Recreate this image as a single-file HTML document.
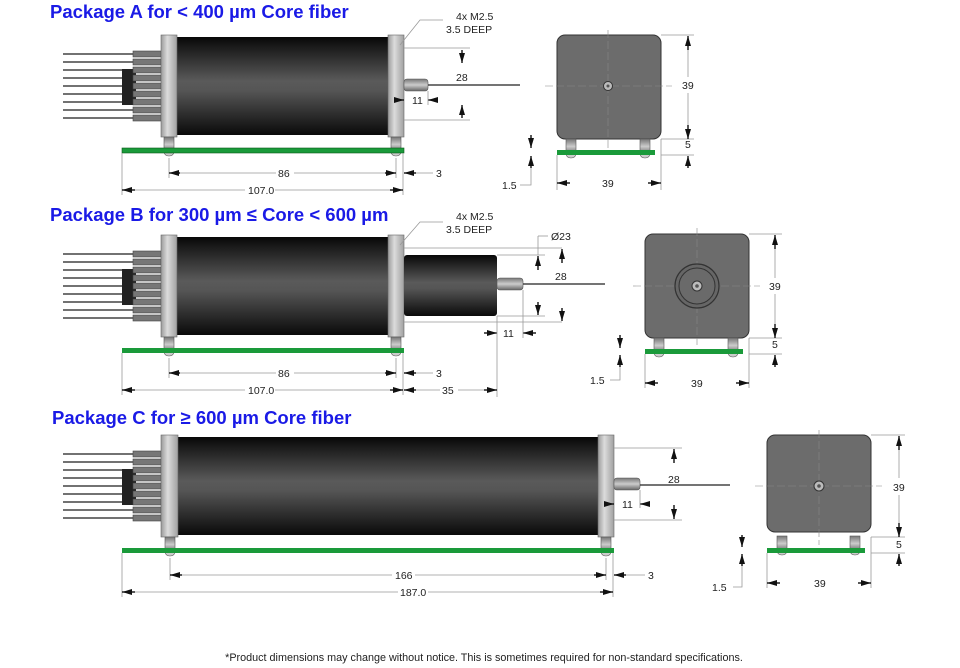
<!DOCTYPE html>
<html><head><meta charset="utf-8"><style>
body{margin:0;background:#fff;}
svg{display:block}
.t{font-family:"Liberation Sans",sans-serif;font-weight:bold;fill:#1a1ae6;font-size:18.5px}
.d{font-family:"Liberation Sans",sans-serif;font-size:10.5px;fill:#222}
.dl{stroke:#999;stroke-width:0.8;fill:none}
.ar{stroke:#111;stroke-width:1.4}
</style></head><body>
<svg width="960" height="668" viewBox="0 0 960 668" xmlns="http://www.w3.org/2000/svg">
<defs>
<linearGradient id="cyl" x1="0" y1="0" x2="0" y2="1">
<stop offset="0" stop-color="#080808"/><stop offset="0.45" stop-color="#5a5a5a"/><stop offset="0.55" stop-color="#555"/><stop offset="1" stop-color="#0a0a0a"/>
</linearGradient>
<linearGradient id="plate" x1="0" y1="0" x2="1" y2="0">
<stop offset="0" stop-color="#9a9a9a"/><stop offset="0.4" stop-color="#dcdcdc"/><stop offset="1" stop-color="#a0a0a0"/>
</linearGradient>
<linearGradient id="fer" x1="0" y1="0" x2="0" y2="1">
<stop offset="0" stop-color="#777"/><stop offset="0.5" stop-color="#ccc"/><stop offset="1" stop-color="#666"/>
</linearGradient>
<g id="bundle">
<g stroke="#444" stroke-width="1.6">
<line x1="63" y1="19" x2="135" y2="19"/><line x1="63" y1="27" x2="135" y2="27"/><line x1="63" y1="35" x2="135" y2="35"/>
<line x1="63" y1="43" x2="135" y2="43"/><line x1="63" y1="51" x2="135" y2="51"/><line x1="63" y1="59" x2="135" y2="59"/>
<line x1="63" y1="67" x2="135" y2="67"/><line x1="63" y1="75" x2="135" y2="75"/><line x1="63" y1="83" x2="135" y2="83"/>
</g>
<rect x="122" y="34" width="14" height="36" fill="#222"/>
<g fill="#777" stroke="#444" stroke-width="0.6">
<rect x="133" y="16" width="28" height="6"/><rect x="133" y="24" width="28" height="6"/><rect x="133" y="32" width="28" height="6"/>
<rect x="133" y="40" width="28" height="6"/><rect x="133" y="48" width="28" height="6"/><rect x="133" y="56" width="28" height="6"/>
<rect x="133" y="64" width="28" height="6"/><rect x="133" y="72" width="28" height="6"/><rect x="133" y="80" width="28" height="6"/>
</g>
</g>
<g id="post"><rect x="0" y="0" width="10" height="15" fill="url(#fer)" stroke="#555" stroke-width="0.6"/><path d="M0,15 a5,4 0 0 0 10,0" fill="#ccc" stroke="#555" stroke-width="0.6"/></g>
<marker id="m" viewBox="0 0 10 6" refX="10" refY="3" markerWidth="10" markerHeight="6" orient="auto-start-reverse" markerUnits="userSpaceOnUse"><path d="M0,0 L10,3 L0,6z" fill="#111"/></marker>
</defs>

<!-- ===== Package A ===== -->
<text class="t" x="50" y="18">Package A for &lt; 400 µm Core fiber</text>
<use href="#bundle" x="0" y="35"/>
<rect x="177" y="37" width="212" height="98" fill="url(#cyl)"/>
<rect x="161" y="35" width="16" height="102" fill="url(#plate)" stroke="#666" stroke-width="0.6"/>
<rect x="388" y="35" width="16" height="102" fill="url(#plate)" stroke="#666" stroke-width="0.6"/>
<use href="#post" x="164" y="137"/><use href="#post" x="391" y="137"/>
<rect x="122" y="148" width="282" height="5" fill="#1a9a3a" stroke="#0a5a1a" stroke-width="0.6"/>
<rect x="404" y="79" width="24" height="12" rx="3" fill="url(#fer)" stroke="#555" stroke-width="0.6"/>
<line x1="428" y1="85" x2="520" y2="85" stroke="#222" stroke-width="1.2"/>
<line class="dl" x1="404" y1="48" x2="470" y2="48"/><line class="dl" x1="404" y1="120" x2="470" y2="120"/>
<line class="ar" x1="462" y1="50" x2="462" y2="63" marker-end="url(#m)"/>
<line class="ar" x1="462" y1="118" x2="462" y2="105" marker-end="url(#m)"/>
<text class="d" x="456" y="81">28</text>
<line class="ar" x1="397" y1="100" x2="404" y2="100" marker-end="url(#m)"/>
<line class="ar" x1="436" y1="100" x2="428" y2="100" marker-end="url(#m)"/>
<text class="d" x="412" y="104">11</text>
<line class="dl" x1="428" y1="91" x2="428" y2="105"/>
<line class="dl" x1="122" y1="153" x2="122" y2="195"/><line class="dl" x1="403" y1="153" x2="403" y2="195"/><line class="dl" x1="169" y1="158" x2="169" y2="178"/><line class="dl" x1="396" y1="158" x2="396" y2="178"/>
<line class="ar" x1="180" y1="173" x2="169" y2="173" marker-end="url(#m)"/><line class="dl" x1="180" y1="173" x2="276" y2="173"/><line class="dl" x1="294" y1="173" x2="385" y2="173"/><line class="ar" x1="385" y1="173" x2="396" y2="173" marker-end="url(#m)"/>
<text class="d" x="278" y="177">86</text>
<line class="ar" x1="416" y1="173" x2="404" y2="173" marker-end="url(#m)"/><line class="dl" x1="416" y1="173" x2="433" y2="173"/><text class="d" x="436" y="177">3</text>
<line class="ar" x1="135" y1="190" x2="122" y2="190" marker-end="url(#m)"/><line class="dl" x1="135" y1="190" x2="245" y2="190"/><line class="dl" x1="275" y1="190" x2="390" y2="190"/><line class="ar" x1="390" y1="190" x2="403" y2="190" marker-end="url(#m)"/>
<text class="d" x="248" y="194">107.0</text>
<text class="d" x="456" y="20">4x M2.5</text><text class="d" x="446" y="33">3.5  DEEP</text>
<polyline class="dl" points="443,20 420,20 400,45"/>
<!-- end view A -->
<rect x="557" y="35" width="104" height="104" rx="8" fill="#6c6c6c" stroke="#333" stroke-width="1"/>
<line x1="545" y1="86" x2="672" y2="86" stroke="#888" stroke-width="0.6" stroke-dasharray="8,3"/>
<line x1="608" y1="30" x2="608" y2="148" stroke="#888" stroke-width="0.6" stroke-dasharray="8,3"/>
<circle cx="608" cy="86" r="4.5" fill="#bbb" stroke="#333"/><circle cx="608" cy="86" r="1.5" fill="#555"/>
<use href="#post" x="566" y="139"/><use href="#post" x="640" y="139"/>
<rect x="557" y="150" width="98" height="5" fill="#1a9a3a"/>
<line class="dl" x1="661" y1="35" x2="694" y2="35"/><line class="dl" x1="661" y1="139" x2="694" y2="139"/><line class="dl" x1="661" y1="155" x2="694" y2="155"/>
<line class="ar" x1="688" y1="50" x2="688" y2="36" marker-end="url(#m)"/><line class="dl" x1="688" y1="50" x2="688" y2="77"/><line class="dl" x1="688" y1="93" x2="688" y2="125"/><line class="ar" x1="688" y1="125" x2="688" y2="139" marker-end="url(#m)"/>
<text class="d" x="682" y="89">39</text><text class="d" x="685" y="148">5</text>
<line class="ar" x1="688" y1="168" x2="688" y2="156" marker-end="url(#m)"/>
<line class="ar" x1="531" y1="135" x2="531" y2="148" marker-end="url(#m)"/><line class="ar" x1="531" y1="168" x2="531" y2="156" marker-end="url(#m)"/>
<polyline class="dl" points="531,168 531,185 520,185"/><text class="d" x="502" y="189">1.5</text>
<line class="dl" x1="557" y1="155" x2="557" y2="190"/><line class="dl" x1="661" y1="139" x2="661" y2="190"/>
<line class="ar" x1="570" y1="183" x2="557" y2="183" marker-end="url(#m)"/><line class="ar" x1="648" y1="183" x2="661" y2="183" marker-end="url(#m)"/><text class="d" x="602" y="187">39</text>

<!-- ===== Package B ===== -->
<text class="t" x="50" y="221">Package B for 300 µm ≤ Core  &lt; 600 µm</text>
<use href="#bundle" x="0" y="235"/>
<rect x="177" y="237" width="212" height="98" fill="url(#cyl)"/>
<rect x="161" y="235" width="16" height="102" fill="url(#plate)" stroke="#666" stroke-width="0.6"/>
<rect x="388" y="235" width="16" height="102" fill="url(#plate)" stroke="#666" stroke-width="0.6"/>
<rect x="404" y="255" width="93" height="61" rx="3" fill="url(#cyl)"/>
<use href="#post" x="164" y="337"/><use href="#post" x="391" y="337"/>
<rect x="122" y="348" width="282" height="5" fill="#1a9a3a"/>
<rect x="497" y="278" width="26" height="12" rx="3" fill="url(#fer)" stroke="#555" stroke-width="0.6"/>
<line x1="523" y1="284" x2="605" y2="284" stroke="#222" stroke-width="1.2"/>
<line class="dl" x1="404" y1="248" x2="562" y2="248"/><line class="dl" x1="404" y1="322" x2="562" y2="322"/>
<line class="dl" x1="497" y1="255" x2="545" y2="255"/><line class="dl" x1="497" y1="316" x2="545" y2="316"/>
<polyline class="dl" points="538,236 538,255"/><line class="dl" x1="538" y1="236" x2="548" y2="236"/>
<line class="ar" x1="538" y1="270" x2="538" y2="256" marker-end="url(#m)"/><line class="ar" x1="538" y1="302" x2="538" y2="315" marker-end="url(#m)"/>
<line class="ar" x1="562" y1="263" x2="562" y2="249" marker-end="url(#m)"/><line class="ar" x1="562" y1="308" x2="562" y2="321" marker-end="url(#m)"/>
<text class="d" x="551" y="240">Ø23</text><text class="d" x="555" y="280">28</text>
<line class="ar" x1="484" y1="333" x2="497" y2="333" marker-end="url(#m)"/><line class="ar" x1="536" y1="333" x2="523" y2="333" marker-end="url(#m)"/>
<line class="dl" x1="523" y1="290" x2="523" y2="338"/><line class="dl" x1="497" y1="316" x2="497" y2="397"/>
<text class="d" x="503" y="337">11</text>
<line class="dl" x1="122" y1="353" x2="122" y2="395"/><line class="dl" x1="403" y1="353" x2="403" y2="395"/><line class="dl" x1="169" y1="358" x2="169" y2="378"/><line class="dl" x1="396" y1="358" x2="396" y2="378"/>
<line class="ar" x1="180" y1="373" x2="169" y2="373" marker-end="url(#m)"/><line class="dl" x1="180" y1="373" x2="276" y2="373"/><line class="dl" x1="294" y1="373" x2="385" y2="373"/><line class="ar" x1="385" y1="373" x2="396" y2="373" marker-end="url(#m)"/>
<text class="d" x="278" y="377">86</text>
<line class="ar" x1="416" y1="373" x2="404" y2="373" marker-end="url(#m)"/><line class="dl" x1="416" y1="373" x2="433" y2="373"/><text class="d" x="436" y="377">3</text>
<line class="ar" x1="135" y1="390" x2="122" y2="390" marker-end="url(#m)"/><line class="dl" x1="135" y1="390" x2="245" y2="390"/><line class="dl" x1="275" y1="390" x2="390" y2="390"/><line class="ar" x1="390" y1="390" x2="403" y2="390" marker-end="url(#m)"/>
<text class="d" x="248" y="394">107.0</text>
<line class="ar" x1="416" y1="390" x2="404" y2="390" marker-end="url(#m)"/><line class="dl" x1="416" y1="390" x2="440" y2="390"/><line class="dl" x1="458" y1="390" x2="484" y2="390"/><line class="ar" x1="484" y1="390" x2="497" y2="390" marker-end="url(#m)"/>
<text class="d" x="442" y="394">35</text>
<text class="d" x="456" y="220">4x M2.5</text><text class="d" x="446" y="233">3.5  DEEP</text>
<polyline class="dl" points="443,222 420,222 400,245"/>
<!-- end view B -->
<rect x="645" y="234" width="104" height="104" rx="8" fill="#6c6c6c" stroke="#333" stroke-width="1"/>
<line x1="633" y1="286" x2="760" y2="286" stroke="#888" stroke-width="0.6" stroke-dasharray="8,3"/>
<line x1="697" y1="228" x2="697" y2="345" stroke="#888" stroke-width="0.6" stroke-dasharray="8,3"/>
<circle cx="697" cy="286" r="22" fill="#666" stroke="#333" stroke-width="1.2"/><circle cx="697" cy="286" r="18" fill="#6a6a6a" stroke="#333" stroke-width="1"/>
<circle cx="697" cy="286" r="5" fill="#bbb" stroke="#333"/><circle cx="697" cy="286" r="1.8" fill="#555"/>
<use href="#post" x="654" y="338"/><use href="#post" x="728" y="338"/>
<rect x="645" y="349" width="98" height="5" fill="#1a9a3a"/>
<line class="dl" x1="749" y1="234" x2="782" y2="234"/><line class="dl" x1="749" y1="338" x2="782" y2="338"/><line class="dl" x1="749" y1="354" x2="782" y2="354"/>
<line class="ar" x1="775" y1="249" x2="775" y2="235" marker-end="url(#m)"/><line class="dl" x1="775" y1="249" x2="775" y2="278"/><line class="dl" x1="775" y1="294" x2="775" y2="324"/><line class="ar" x1="775" y1="324" x2="775" y2="338" marker-end="url(#m)"/>
<text class="d" x="769" y="290">39</text><text class="d" x="772" y="348">5</text>
<line class="ar" x1="775" y1="367" x2="775" y2="355" marker-end="url(#m)"/>
<line class="ar" x1="620" y1="335" x2="620" y2="348" marker-end="url(#m)"/><line class="ar" x1="620" y1="367" x2="620" y2="355" marker-end="url(#m)"/>
<polyline class="dl" points="620,367 620,380 610,380"/><text class="d" x="590" y="384">1.5</text>
<line class="dl" x1="645" y1="354" x2="645" y2="388"/><line class="dl" x1="749" y1="338" x2="749" y2="388"/>
<line class="ar" x1="658" y1="383" x2="645" y2="383" marker-end="url(#m)"/><line class="ar" x1="736" y1="383" x2="749" y2="383" marker-end="url(#m)"/><text class="d" x="691" y="387">39</text>

<!-- ===== Package C ===== -->
<text class="t" x="52" y="424">Package C for ≥ 600 µm Core fiber</text>
<use href="#bundle" x="0" y="435"/>
<rect x="178" y="437" width="421" height="98" fill="url(#cyl)"/>
<rect x="161" y="435" width="17" height="102" fill="url(#plate)" stroke="#666" stroke-width="0.6"/>
<rect x="598" y="435" width="16" height="102" fill="url(#plate)" stroke="#666" stroke-width="0.6"/>
<use href="#post" x="165" y="537"/><use href="#post" x="601" y="537"/>
<rect x="122" y="548" width="492" height="5" fill="#1a9a3a"/>
<rect x="614" y="478" width="26" height="12" rx="3" fill="url(#fer)" stroke="#555" stroke-width="0.6"/>
<line x1="640" y1="485" x2="730" y2="485" stroke="#222" stroke-width="1.2"/>
<line class="dl" x1="614" y1="448" x2="682" y2="448"/><line class="dl" x1="614" y1="520" x2="682" y2="520"/>
<line class="ar" x1="674" y1="463" x2="674" y2="449" marker-end="url(#m)"/><line class="ar" x1="674" y1="505" x2="674" y2="519" marker-end="url(#m)"/>
<text class="d" x="668" y="483">28</text>
<line class="ar" x1="606" y1="504" x2="614" y2="504" marker-end="url(#m)"/><line class="ar" x1="650" y1="504" x2="640" y2="504" marker-end="url(#m)"/>
<line class="dl" x1="640" y1="490" x2="640" y2="508"/>
<text class="d" x="622" y="508">11</text>
<line class="dl" x1="122" y1="553" x2="122" y2="597"/><line class="dl" x1="613" y1="553" x2="613" y2="597"/><line class="dl" x1="170" y1="558" x2="170" y2="580"/><line class="dl" x1="606" y1="558" x2="606" y2="580"/>
<line class="ar" x1="182" y1="575" x2="170" y2="575" marker-end="url(#m)"/><line class="dl" x1="182" y1="575" x2="392" y2="575"/><line class="dl" x1="415" y1="575" x2="594" y2="575"/><line class="ar" x1="594" y1="575" x2="606" y2="575" marker-end="url(#m)"/>
<text class="d" x="395" y="579">166</text>
<line class="ar" x1="626" y1="575" x2="614" y2="575" marker-end="url(#m)"/><line class="dl" x1="626" y1="575" x2="645" y2="575"/><text class="d" x="648" y="579">3</text>
<line class="ar" x1="135" y1="592" x2="122" y2="592" marker-end="url(#m)"/><line class="dl" x1="135" y1="592" x2="398" y2="592"/><line class="dl" x1="428" y1="592" x2="600" y2="592"/><line class="ar" x1="600" y1="592" x2="613" y2="592" marker-end="url(#m)"/>
<text class="d" x="400" y="596">187.0</text>
<!-- end view C -->
<rect x="767" y="435" width="104" height="97" rx="8" fill="#6c6c6c" stroke="#333" stroke-width="1"/>
<line x1="755" y1="486" x2="882" y2="486" stroke="#888" stroke-width="0.6" stroke-dasharray="8,3"/>
<line x1="819" y1="430" x2="819" y2="545" stroke="#888" stroke-width="0.6" stroke-dasharray="8,3"/>
<circle cx="819" cy="486" r="5" fill="#bbb" stroke="#333"/><circle cx="819" cy="486" r="1.8" fill="#555"/>
<use href="#post" x="777" y="536"/><use href="#post" x="850" y="536"/>
<rect x="767" y="548" width="98" height="5" fill="#1a9a3a"/>
<line class="dl" x1="871" y1="435" x2="905" y2="435"/><line class="dl" x1="871" y1="537" x2="905" y2="537"/><line class="dl" x1="871" y1="553" x2="905" y2="553"/>
<line class="ar" x1="899" y1="450" x2="899" y2="436" marker-end="url(#m)"/><line class="dl" x1="899" y1="450" x2="899" y2="478"/><line class="dl" x1="899" y1="495" x2="899" y2="523"/><line class="ar" x1="899" y1="523" x2="899" y2="537" marker-end="url(#m)"/>
<text class="d" x="893" y="491">39</text><text class="d" x="896" y="548">5</text>
<line class="ar" x1="899" y1="566" x2="899" y2="554" marker-end="url(#m)"/>
<line class="ar" x1="742" y1="535" x2="742" y2="547" marker-end="url(#m)"/><line class="ar" x1="742" y1="566" x2="742" y2="554" marker-end="url(#m)"/>
<polyline class="dl" points="742,566 742,587 733,587"/><text class="d" x="712" y="591">1.5</text>
<line class="dl" x1="767" y1="553" x2="767" y2="588"/><line class="dl" x1="871" y1="537" x2="871" y2="588"/>
<line class="ar" x1="780" y1="583" x2="767" y2="583" marker-end="url(#m)"/><line class="ar" x1="858" y1="583" x2="871" y2="583" marker-end="url(#m)"/><text class="d" x="814" y="587">39</text>

<text x="484" y="661" text-anchor="middle" style="font-family:'Liberation Sans',sans-serif;font-size:10.8px;fill:#222">*Product dimensions may change without notice. This is sometimes required for non-standard specifications.</text>
</svg>
</body></html>
